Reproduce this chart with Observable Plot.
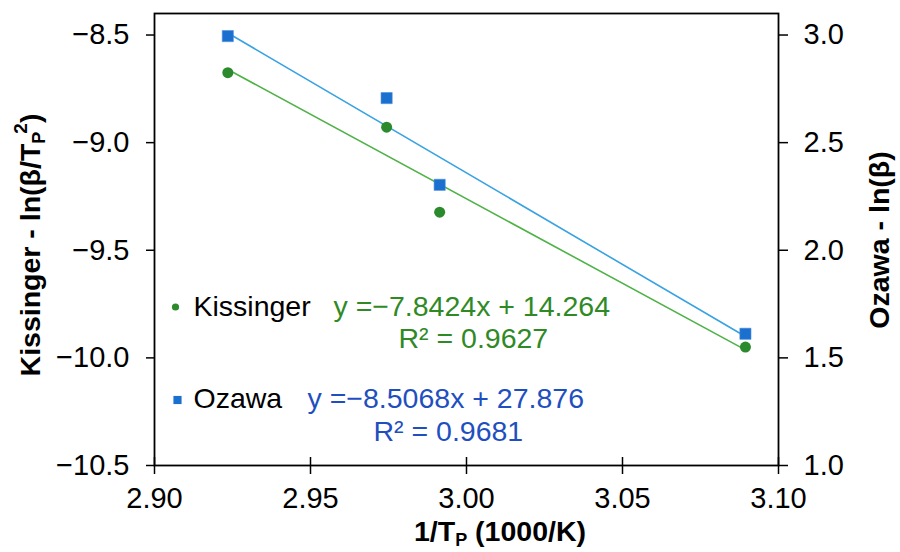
<!DOCTYPE html>
<html>
<head>
<meta charset="utf-8">
<script src="https://cdn.jsdelivr.net/npm/d3@7"></script>
<script src="https://cdn.jsdelivr.net/npm/@observablehq/plot@0.6"></script>
<style>
  html, body { margin: 0; padding: 0; background: #fff; }
  #chart { width: 900px; height: 552px; }
</style>
</head>
<body>
<div id="chart"></div>
<script>
// ---- data ----
const invTp = [2.9235, 2.9744, 2.9914, 3.0894];          // 1/Tp (1000/K)
const kissinger = [-8.675, -8.928, -9.323, -9.950];      // ln(beta/Tp^2)  (left axis)
const ozawa = [2.995, 2.707, 2.304, 1.612];              // ln(beta)       (right axis)

const xTicks = [2.90, 2.95, 3.00, 3.05, 3.10];
const leftTicks = [-10.5, -10.0, -9.5, -9.0, -8.5];
const rightTicks = [1.0, 1.5, 2.0, 2.5, 3.0];

const seriesNames = ["Kissinger", "Ozawa"];
const equations = ["y =\u22127.8424x + 14.264", "y =\u22128.5068x + 27.876"];
const r2Labels = ["R\u00b2 = 0.9627", "R\u00b2 = 0.9681"];

// ---- styles ----
const kissMarker = "#2b8a2b", kissLine = "#4fb247", kissText = "#2f8a26";
const ozMarker = "#1b6fcf", ozLine = "#38a2e2", ozText = "#1f4fbf";
const font = "Arial, 'Liberation Sans', sans-serif";

// right axis maps linearly onto the left axis (1.0 ↔ -10.5, 3.0 ↔ -8.5)
const rightToLeft = d3.scaleLinear()
  .domain([rightTicks[0], rightTicks[rightTicks.length - 1]])
  .range([leftTicks[0], leftTicks[leftTicks.length - 1]]);

const kissData = invTp.map((x, i) => ({x, y: kissinger[i]}));
const ozData = invTp.map((x, i) => ({x, y: rightToLeft(ozawa[i])}));

const fmt1 = d3.format(".1f");
const fmt2 = d3.format(".2f");

const legendFont = 28.5;
const one = [0];
const plot = Plot.plot({
  width: 900,
  height: 552,
  marginLeft: 154,
  marginRight: 122,
  marginTop: 13,
  marginBottom: 87,
  style: {fontFamily: font, fontSize: "29px", color: "#000", background: "#fff"},
  x: {domain: [2.90, 3.10]},
  y: {domain: [-10.5, -8.4]},
  marks: [
    Plot.axisY(leftTicks, {anchor: "left", tickSize: 8, tickPadding: 17, tickFormat: fmt1, label: null, strokeWidth: 1.5}),
    Plot.axisY(rightTicks.map(rightToLeft), {anchor: "right", tickSize: 9, tickPadding: 16, tickFormat: d => fmt1(rightToLeft.invert(d)), label: null, strokeWidth: 1.5}),
    Plot.axisX(xTicks, {anchor: "bottom", tickSize: 9, tickPadding: 13, tickFormat: fmt2, label: null, strokeWidth: 1.5}),
    Plot.frame({stroke: "#000", strokeWidth: 1.8}),
    Plot.linearRegressionY(ozData, {x: "x", y: "y", stroke: ozLine, strokeWidth: 1.6, ci: 0}),
    Plot.linearRegressionY(kissData, {x: "x", y: "y", stroke: kissLine, strokeWidth: 1.6, ci: 0}),
    Plot.dot(ozData, {x: "x", y: "y", symbol: "square", r: 6.3, fill: ozMarker, stroke: "#4a8ee0", strokeWidth: 0.6}),
    Plot.dot(kissData, {x: "x", y: "y", r: 5.5, fill: kissMarker}),
    // in-plot legend
    Plot.dot(one, {frameAnchor: "top-left", dx: 21, dy: 293.5, r: 3.6, fill: kissMarker}),
    Plot.text(one, {frameAnchor: "top-left", dx: 39, dy: 293.4, text: () => seriesNames[0], textAnchor: "start", lineAnchor: "middle", fill: "#000", fontSize: legendFont}),
    Plot.text(one, {frameAnchor: "top-left", dx: 179, dy: 293.4, text: () => equations[0], textAnchor: "start", lineAnchor: "middle", fill: kissText, fontSize: legendFont}),
    Plot.text(one, {frameAnchor: "top-left", dx: 244, dy: 325.4, text: () => r2Labels[0], textAnchor: "start", lineAnchor: "middle", fill: kissText, fontSize: legendFont}),
    Plot.dot(one, {frameAnchor: "top-left", dx: 23, dy: 386.5, symbol: "square", r: 4.6, fill: ozMarker}),
    Plot.text(one, {frameAnchor: "top-left", dx: 39, dy: 385.4, text: () => seriesNames[1], textAnchor: "start", lineAnchor: "middle", fill: "#000", fontSize: legendFont}),
    Plot.text(one, {frameAnchor: "top-left", dx: 153, dy: 385.4, text: () => equations[1], textAnchor: "start", lineAnchor: "middle", fill: ozText, fontSize: legendFont}),
    Plot.text(one, {frameAnchor: "top-left", dx: 219, dy: 418.4, text: () => r2Labels[1], textAnchor: "start", lineAnchor: "middle", fill: ozText, fontSize: legendFont})
  ]
});

document.getElementById("chart").appendChild(plot);

const svg = d3.select(plot);
// x-axis ticks cross the axis line
svg.selectAll('g[aria-label="x-axis tick"] path').attr("d", "M0,-8L0,9");

// axis titles with subscripts / superscripts
function title(x, y, rotate) {
  return svg.append("text")
    .attr("transform", `translate(${x},${y})` + (rotate ? ` rotate(${rotate})` : ""))
    .attr("text-anchor", "middle")
    .attr("font-family", font)
    .attr("font-size", 28.5)
    .attr("font-weight", "bold")
    .attr("fill", "#000");
}
const lt = title(40, 245, -90);
lt.append("tspan").text("Kissinger - ln(\u03b2/T");
lt.append("tspan").attr("font-size", 18).attr("dy", 5).text("P");
lt.append("tspan").attr("font-size", 19).attr("dy", -18).attr("dx", -2).text("2");
lt.append("tspan").attr("dy", 13).text(")");

const rt = title(889, 240, -90);
rt.append("tspan").text("Ozawa - ln(\u03b2)");

const xt = title(500, 541, 0);
xt.append("tspan").text("1/T");
xt.append("tspan").attr("font-size", 18).attr("dy", 5).text("P");
xt.append("tspan").attr("dy", -5).text(" (1000/K)");
</script>
</body>
</html>
